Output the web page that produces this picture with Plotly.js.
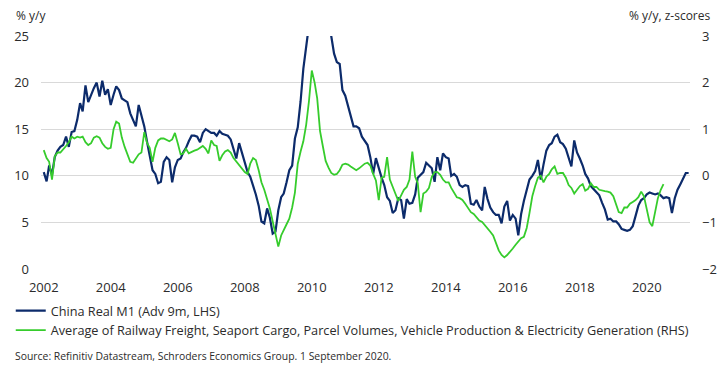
<!DOCTYPE html>
<html>
<head>
<meta charset="utf-8">
<script src="https://cdn.plot.ly/plotly-3.0.1.min.js"></script>
<style>html,body{margin:0;padding:0;background:#fff;}#chart{width:721px;height:371px;}</style>
</head>
<body>
<div id="chart"></div>
<script>
// China Real M1 (advanced 9 months), % y/y, monthly from Jan 2002
const m1Start = [2002, 1];
const m1Values = [
  10.4,9.4,11.1,10.1,12.0,12.7,13.1,13.3,14.2,13.1,
  14.7,14.8,16.0,17.8,16.9,19.7,17.9,18.7,19.4,20.0,
  18.5,20.2,18.7,19.3,17.6,18.7,19.6,19.2,18.3,18.1,
  17.9,16.7,16.0,15.3,17.6,16.5,15.3,13.6,12.0,10.6,
  10.2,9.2,9.35,11.5,12.0,11.7,9.3,10.9,11.7,11.85,
  12.5,13.0,13.7,14.3,14.3,14.2,13.6,14.6,15.0,14.8,
  14.6,14.6,14.3,14.8,14.5,14.4,14.3,13.9,12.75,11.85,
  13.5,12.5,11.7,10.4,9.9,9.0,8.0,6.8,5.1,4.9,
  6.5,5.5,3.8,4.0,6.3,7.7,8.1,9.3,10.6,11.1,
  14.0,15.2,18.0,21.5,24.5,27.0,30.0,32.0,33.0,33.0,
  32.0,30.0,27.5,25.0,23.1,22.2,22.0,19.2,18.6,17.4,
  16.2,15.3,15.3,15.1,14.2,13.7,13.3,12.0,10.2,11.9,
  10.8,9.8,9.0,7.7,7.3,6.0,6.3,7.6,7.4,5.4,
  7.5,7.0,7.1,8.0,9.8,10.1,10.4,11.4,11.1,10.8,
  9.35,12.0,10.6,12.4,12.0,11.85,10.0,10.2,9.9,9.0,
  8.8,9.0,8.9,7.0,6.9,7.4,6.7,6.3,8.8,7.5,
  6.6,6.1,5.8,5.8,4.9,6.7,7.3,5.2,5.8,5.4,
  3.6,5.9,7.3,8.5,9.6,10.0,10.5,11.7,9.6,11.2,
  12.7,13.3,13.5,14.2,14.4,13.6,13.4,12.9,12.0,11.0,
  13.8,12.5,11.85,11.1,10.2,9.7,8.9,8.6,8.2,7.9,
  7.1,6.4,5.3,5.4,5.1,5.1,4.8,4.3,4.2,4.1,
  4.2,4.6,5.7,6.8,7.4,7.6,8.0,8.2,8.1,8.0,
  8.1,7.9,7.6,7.7,7.6,6.0,7.6,8.5,9.1,9.7,
  10.3,10.3
];

// Activity average, z-scores, monthly from Jan 2002
const actStart = [2002, 1];
const actValues = [
  0.55,0.38,0.30,-0.08,0.42,0.50,0.50,0.56,0.64,0.72,
  0.84,0.80,0.84,0.82,0.84,0.72,0.66,0.70,0.82,0.85,
  0.82,0.70,0.62,0.58,0.60,1.00,1.16,1.12,0.82,0.62,
  0.48,0.30,0.28,0.36,0.46,0.50,0.94,0.70,0.60,0.30,
  0.60,0.76,0.80,0.80,0.76,0.74,0.78,0.92,0.70,0.46,
  0.48,0.58,0.48,0.52,0.54,0.56,0.60,0.64,0.58,0.48,
  0.76,0.66,0.64,0.32,0.44,0.52,0.55,0.50,0.38,0.30,
  0.22,0.16,0.08,0.04,0.26,0.38,0.34,0.12,-0.14,-0.30,
  -0.48,-0.70,-0.98,-1.28,-1.52,-1.28,-1.18,-1.04,-0.92,-0.68,
  -0.36,0.26,0.52,0.74,1.10,1.60,2.26,2.00,1.66,0.96,
  0.64,0.32,0.18,0.06,0.02,0.04,0.12,0.24,0.26,0.24,
  0.20,0.16,0.12,0.16,0.20,0.26,0.28,0.22,0.04,-0.10,
  -0.52,-0.04,-0.02,0.40,-0.08,-0.24,-0.38,-0.54,-0.42,-0.30,
  -0.24,-0.08,0.52,-0.02,-0.16,-0.78,-0.38,-0.34,-0.26,-0.02,
  0.08,0.08,0.02,-0.08,-0.14,-0.14,-0.26,-0.36,-0.46,-0.48,
  -0.52,-0.60,-0.70,-0.78,-0.82,-0.88,-0.96,-0.99,-1.05,-1.12,
  -1.20,-1.28,-1.44,-1.60,-1.70,-1.75,-1.70,-1.64,-1.56,-1.48,
  -1.40,-1.34,-1.31,-1.12,-0.80,-0.44,-0.22,-0.04,0.00,-0.14,
  -0.02,0.04,0.14,0.20,0.04,0.06,0.06,-0.04,-0.20,-0.26,
  -0.38,-0.30,-0.22,-0.18,-0.32,-0.28,-0.16,-0.24,-0.24,-0.30,
  -0.32,-0.33,-0.34,-0.36,-0.44,-0.62,-0.78,-0.80,-0.68,-0.68,
  -0.60,-0.56,-0.52,-0.46,-0.34,-0.44,-0.70,-1.00,-1.08,-0.74,
  -0.48,-0.30,-0.18
];

const seriesNames = [
  'China Real M1 (Adv 9m, LHS)',
  'Average of Railway Freight, Seaport Cargo, Parcel Volumes, Vehicle Production & Electricity Generation (RHS)'
];
const leftTitle = '% y/y';
const rightTitle = '% y/y, z-scores';
const sourceText = 'Source: Refinitiv Datastream, Schroders Economics Group. 1 September 2020.';

function monthDates(start, n) {
  const out = [];
  let y = start[0], m = start[1];
  for (let i = 0; i < n; i++) {
    out.push(y + '-' + String(m).padStart(2, '0') + '-01');
    m++; if (m > 12) { m = 1; y++; }
  }
  return out;
}

const FONT = 'Open Sans, Noto Sans, sans-serif';
const TXT = '#2b2b2b';

const traces = [
  {
    x: monthDates(m1Start, m1Values.length), y: m1Values,
    name: seriesNames[0], type: 'scatter', mode: 'lines',
    line: {color: '#0c2b6b', width: 2.2}, yaxis: 'y'
  },
  {
    x: monthDates(actStart, actValues.length), y: actValues,
    name: seriesNames[1], type: 'scatter', mode: 'lines',
    line: {color: '#36cc2c', width: 1.8}, yaxis: 'y2'
  }
];

const layout = {
  width: 721, height: 371,
  margin: {l: 40, r: 31, t: 36, b: 102},
  paper_bgcolor: '#fff', plot_bgcolor: '#fff',
  font: {family: FONT, size: 13, color: TXT},
  showlegend: true,
  legend: {
    orientation: 'v', x: -0.045, xanchor: 'left', y: -0.115, yanchor: 'top',
    font: {family: FONT, size: 12.7, color: TXT},
    itemwidth: 30, tracegroupgap: 0, bgcolor: 'rgba(0,0,0,0)'
  },
  xaxis: {
    type: 'date',
    range: ['2001-12-02', '2021-04-16'],
    tick0: '2002-01-01', dtick: 'M24', tickformat: '%Y',
    showgrid: false, zeroline: false, showline: false, ticks: '',
    tickfont: {family: FONT, size: 13, color: TXT},
    ticklabelstandoff: 9
  },
  yaxis: {
    range: [0, 25], dtick: 5, tick0: 0,
    showgrid: true, gridcolor: '#d9d9d9', gridwidth: 1,
    zeroline: false, showline: false, ticks: '',
    tickfont: {family: FONT, size: 13, color: TXT},
    ticklabelstandoff: 11
  },
  yaxis2: {
    range: [-2, 3], dtick: 1, tick0: 0,
    overlaying: 'y', side: 'right',
    showgrid: false, zeroline: false, showline: false, ticks: '',
    tickfont: {family: FONT, size: 13, color: TXT},
    ticklabelstandoff: 11
  },
  annotations: [
    {text: leftTitle, xref: 'paper', yref: 'paper', x: -0.0415, y: 1.086,
     xanchor: 'left', yanchor: 'middle', showarrow: false,
     font: {family: FONT, size: 12, color: TXT}},
    {text: rightTitle, xref: 'paper', yref: 'paper', x: 1.034, y: 1.086,
     xanchor: 'right', yanchor: 'middle', showarrow: false,
     font: {family: FONT, size: 12, color: TXT}},
    {text: sourceText, xref: 'paper', yref: 'paper', x: -0.0431, y: -0.373,
     xanchor: 'left', yanchor: 'middle', showarrow: false,
     font: {family: FONT, size: 10.4, color: TXT}}
  ]
};

Plotly.newPlot('chart', traces, layout, {displayModeBar: false, staticPlot: true});
</script>
</body>
</html>
